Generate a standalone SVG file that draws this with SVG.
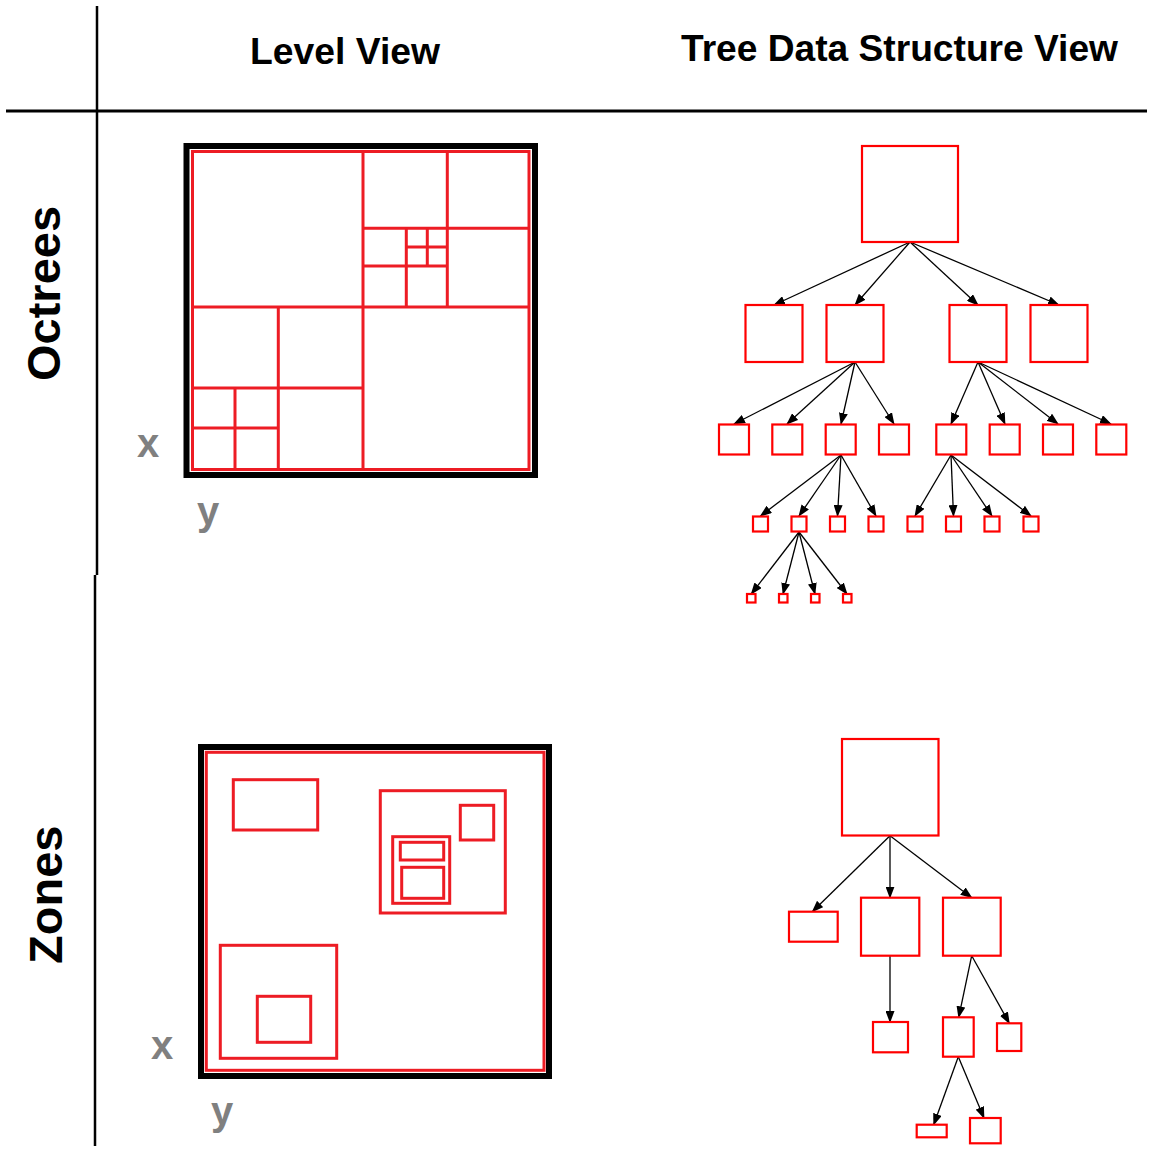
<svg xmlns="http://www.w3.org/2000/svg" width="1160" height="1164" viewBox="0 0 1160 1164">
<style>
.hdr{font-family:"Liberation Sans",Arial,sans-serif;font-weight:bold;font-size:37px;fill:#000}
.row{font-family:"Liberation Sans",Arial,sans-serif;font-weight:bold;font-size:47px;fill:#000}
.ax{font-family:"Liberation Sans",Arial,sans-serif;font-weight:bold;font-size:40px;fill:#808080}
.frame{fill:none;stroke:#000;stroke-width:6}
.lv{fill:none;stroke:#ed1c24;stroke-width:3}
.tn{fill:#fff;stroke:#ff0000;stroke-width:2.2}
.ed{stroke:#000;stroke-width:1.3;fill:none;marker-end:url(#ah)}
</style>
<defs>
<marker id="ah" markerUnits="userSpaceOnUse" markerWidth="12" markerHeight="9" refX="11" refY="4.5" orient="auto">
<path d="M0,0 L12,4.5 L0,9 z" fill="#000"/>
</marker>
</defs>
<rect width="1160" height="1164" fill="#fff"/>
<g id="grid">
<line x1="97" y1="6" x2="97" y2="575" stroke="#000" stroke-width="2.5"/>
<line x1="95" y1="575" x2="95" y2="1146" stroke="#000" stroke-width="2.5"/>
<line x1="6" y1="111" x2="1147" y2="111" stroke="#000" stroke-width="3"/>
</g>
<g id="headers">
<text class="hdr" x="250" y="64" textLength="190" lengthAdjust="spacingAndGlyphs">Level View</text>
<text class="hdr" x="681" y="61" textLength="437" lengthAdjust="spacingAndGlyphs">Tree Data Structure View</text>
<text class="row" transform="translate(60,381) rotate(-90)">Octrees</text>
<text class="row" transform="translate(62,964) rotate(-90)">Zones</text>
</g>
<g id="octree-level">
<rect class="frame" x="186.5" y="146" width="348.5" height="329"/>
<rect class="lv" x="192.5" y="151.5" width="336.5" height="318"/>
<path class="lv" d="M363,151.5V469.5 M192.5,307H529 M447.3,151.5V307 M363,228.3H529 M406.3,228.3V307 M363,266H447.3 M427.3,228.3V266 M406.3,247H447.3 M278.3,307V469.5 M192.5,388H363 M235,388V469.5 M192.5,428H278.3"/>
<text class="ax" x="137" y="457">x</text>
<text class="ax" x="197" y="525">y</text>
</g>
<g id="zones-level">
<rect class="frame" x="201" y="747" width="348" height="329"/>
<rect class="lv" x="206.3" y="752.3" width="337.7" height="318"/>
<rect class="lv" x="233.3" y="779.7" width="84.4" height="50.3"/>
<rect class="lv" x="380.3" y="790.7" width="125" height="122.3"/>
<rect class="lv" x="460.3" y="805.3" width="33.4" height="34.7"/>
<rect class="lv" x="392.7" y="836.7" width="57" height="66.6"/>
<rect class="lv" x="400.3" y="842.3" width="43.4" height="17.7"/>
<rect class="lv" x="401.7" y="867.3" width="42" height="31"/>
<rect class="lv" x="220.3" y="945.3" width="116.4" height="113"/>
<rect class="lv" x="257.3" y="996.3" width="53.4" height="46"/>
<text class="ax" x="151" y="1059">x</text>
<text class="ax" x="211" y="1125">y</text>
</g>
<g id="connectors">
<line class="ed" x1="910" y1="242" x2="774" y2="305"/>
<line class="ed" x1="910" y1="242" x2="855" y2="305"/>
<line class="ed" x1="910" y1="242" x2="978" y2="305"/>
<line class="ed" x1="910" y1="242" x2="1059" y2="305"/>
<line class="ed" x1="855" y1="362" x2="734" y2="424"/>
<line class="ed" x1="855" y1="362" x2="787" y2="424"/>
<line class="ed" x1="855" y1="362" x2="841" y2="424"/>
<line class="ed" x1="855" y1="362" x2="894" y2="424"/>
<line class="ed" x1="978" y1="362" x2="951" y2="424"/>
<line class="ed" x1="978" y1="362" x2="1005" y2="424"/>
<line class="ed" x1="978" y1="362" x2="1058" y2="424"/>
<line class="ed" x1="978" y1="362" x2="1111" y2="424"/>
<line class="ed" x1="841" y1="455" x2="760.5" y2="516"/>
<line class="ed" x1="841" y1="455" x2="799" y2="516"/>
<line class="ed" x1="841" y1="455" x2="837.5" y2="516"/>
<line class="ed" x1="841" y1="455" x2="876" y2="516"/>
<line class="ed" x1="951" y1="455" x2="915" y2="516"/>
<line class="ed" x1="951" y1="455" x2="953.5" y2="516"/>
<line class="ed" x1="951" y1="455" x2="992" y2="516"/>
<line class="ed" x1="951" y1="455" x2="1031" y2="516"/>
<line class="ed" x1="799" y1="532" x2="751.3" y2="594"/>
<line class="ed" x1="799" y1="532" x2="783" y2="594"/>
<line class="ed" x1="799" y1="532" x2="815" y2="594"/>
<line class="ed" x1="799" y1="532" x2="847" y2="594"/>
<line class="ed" x1="890" y1="835.7" x2="812.3" y2="911.7"/>
<line class="ed" x1="890" y1="835.7" x2="890" y2="897.7"/>
<line class="ed" x1="890" y1="835.7" x2="971.7" y2="897.7"/>
<line class="ed" x1="890" y1="955.7" x2="890" y2="1022"/>
<line class="ed" x1="971.7" y1="955.7" x2="958.7" y2="1017.3"/>
<line class="ed" x1="971.7" y1="955.7" x2="1009.3" y2="1023.3"/>
<line class="ed" x1="958.3" y1="1056.7" x2="933.7" y2="1124.7"/>
<line class="ed" x1="958.3" y1="1056.7" x2="984" y2="1118"/>
</g>
<g id="octree-tree">
<rect id="o-root" class="tn" x="862" y="146" width="96" height="96"/>
<rect id="o1a" class="tn" x="745.5" y="305" width="57" height="57"/>
<rect id="o1b" class="tn" x="826.5" y="305" width="57" height="57"/>
<rect id="o1c" class="tn" x="949.5" y="305" width="57" height="57"/>
<rect id="o1d" class="tn" x="1030.5" y="305" width="57" height="57"/>
<rect id="o2a" class="tn" x="719" y="424.5" width="30" height="30"/>
<rect id="o2b" class="tn" x="772.3" y="424.5" width="30" height="30"/>
<rect id="o2c" class="tn" x="825.7" y="424.5" width="30" height="30"/>
<rect id="o2d" class="tn" x="879" y="424.5" width="30" height="30"/>
<rect id="o2e" class="tn" x="936.3" y="424.5" width="30" height="30"/>
<rect id="o2f" class="tn" x="989.7" y="424.5" width="30" height="30"/>
<rect id="o2g" class="tn" x="1043" y="424.5" width="30" height="30"/>
<rect id="o2h" class="tn" x="1096.3" y="424.5" width="30" height="30"/>
<rect id="o3a" class="tn" x="753" y="516.5" width="15" height="15"/>
<rect id="o3b" class="tn" x="791.5" y="516.5" width="15" height="15"/>
<rect id="o3c" class="tn" x="830" y="516.5" width="15" height="15"/>
<rect id="o3d" class="tn" x="868.5" y="516.5" width="15" height="15"/>
<rect id="o3e" class="tn" x="907.5" y="516.5" width="15" height="15"/>
<rect id="o3f" class="tn" x="946" y="516.5" width="15" height="15"/>
<rect id="o3g" class="tn" x="984.5" y="516.5" width="15" height="15"/>
<rect id="o3h" class="tn" x="1023.5" y="516.5" width="15" height="15"/>
<rect id="o4a" class="tn" x="747" y="594" width="8.5" height="8.5"/>
<rect id="o4b" class="tn" x="779" y="594" width="8.5" height="8.5"/>
<rect id="o4c" class="tn" x="811" y="594" width="8.5" height="8.5"/>
<rect id="o4d" class="tn" x="843" y="594" width="8.5" height="8.5"/>
</g>
<g id="zones-tree">
<rect id="z-root" class="tn" x="842" y="739" width="96.5" height="96.5"/>
<rect id="z1a" class="tn" x="789" y="911.7" width="48.7" height="30"/>
<rect id="z1b" class="tn" x="861" y="897.7" width="58.3" height="58"/>
<rect id="z1c" class="tn" x="943" y="897.7" width="57.7" height="58"/>
<rect id="z2a" class="tn" x="873" y="1022" width="35" height="30.3"/>
<rect id="z2b" class="tn" x="943" y="1017.3" width="30.7" height="39.4"/>
<rect id="z2c" class="tn" x="997" y="1023.3" width="24.3" height="27.7"/>
<rect id="z3a" class="tn" x="916.7" y="1124.7" width="30" height="12.6"/>
<rect id="z3b" class="tn" x="970" y="1118" width="30.7" height="25.3"/>
</g>
</svg>
